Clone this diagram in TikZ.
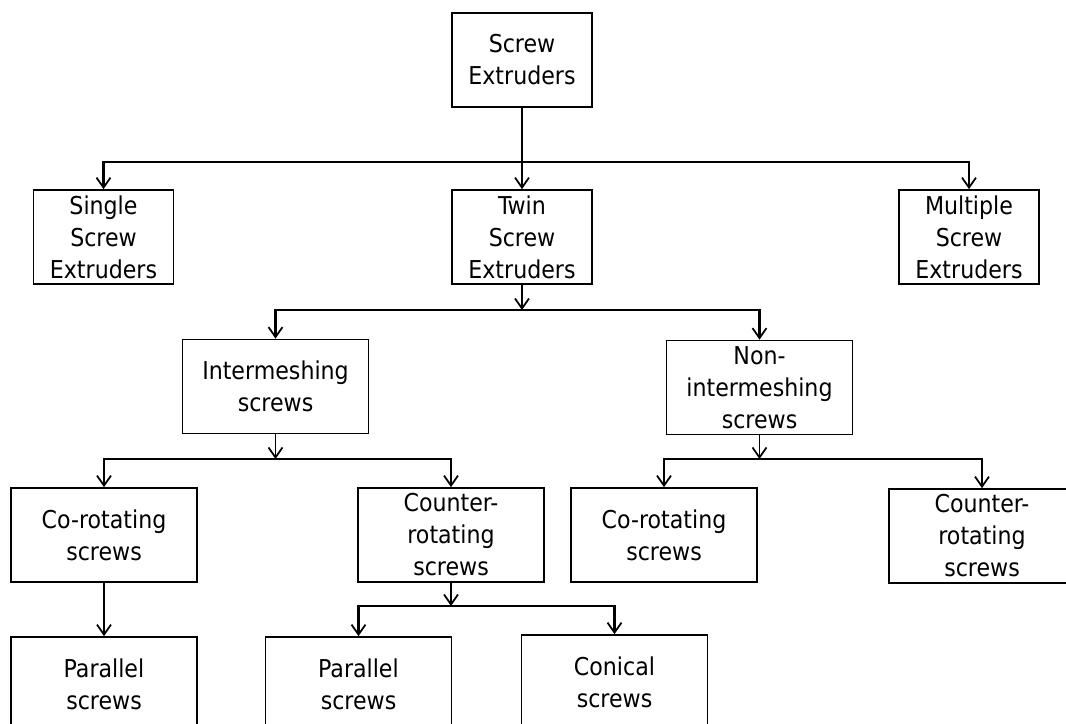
\documentclass[tikz,border=0pt]{standalone}
\usepackage{fontspec}
\setmainfont{DejaVu Sans Condensed}
\usepackage{tikz}
\usetikzlibrary{arrows.meta, positioning}
\tikzset{
  box/.style={rectangle, draw=black, line width=1pt, align=center, font=\fontsize{14}{18.2}\selectfont, minimum width=3.72cm, minimum height=1.88cm, inner sep=2pt},
  topbox/.style={box, minimum width=2.8cm},
  arr/.style={-{Straight Barb[length=2mm, width=2.8mm, line width=1pt]}, line width=1.1pt},
  bus/.style={line width=1.3pt},
}
\begin{document}
\begin{tikzpicture}[x=0.02cm, y=-0.02cm]
\useasboundingbox (0,0) rectangle (1066,724);
% boxes
\node[topbox] (se) at (522,60) {Screw\\Extruders};
\node[topbox] (single) at (103.5,237) {Single\\Screw\\Extruders};
\node[topbox] (twin) at (522,237) {Twin\\Screw\\Extruders};
\node[topbox] (multi) at (969,237) {Multiple\\Screw\\Extruders};
\node[box] (inter) at (275.5,386.5) {Intermeshing\\screws};
\node[box] (non) at (759.5,387.5) {Non-\\intermeshing\\screws};
\node[box] (co1) at (104,535) {Co-rotating\\screws};
\node[box] (cnt1) at (451,535) {Counter-\\rotating\\screws};
\node[box] (co2) at (664,535) {Co-rotating\\screws};
\node[box] (cnt2) at (982,536) {Counter-\\rotating\\screws};
\node[box] (par1) at (104,684) {Parallel\\screws};
\node[box] (par2) at (358.5,684) {Parallel\\screws};
\node[box] (con) at (614.5,682) {Conical\\screws};
% junctions
\coordinate (b1) at (se.south |- 0,162);
\coordinate (b2) at (twin.south |- 0,310);
\coordinate (b3) at (inter.south |- 0,459);
\coordinate (b4) at (non.south |- 0,459);
\coordinate (b5) at (cnt1.south |- 0,606);
% connectors
\draw[arr] (se) -- (twin);
\draw[arr, bus] (b1) -| (single.north);
\draw[arr, bus] (b1) -| (multi.north);
\draw[arr] (twin.south) -- (b2);
\draw[arr, bus] (b2) -| (inter.north);
\draw[arr, bus] (b2) -| (non.north);
\draw[arr] (inter.south) -- (b3);
\draw[arr, bus] (b3) -| (co1.north);
\draw[arr, bus] (b3) -| (cnt1.north);
\draw[arr] (non.south) -- (b4);
\draw[arr, bus] (b4) -| (co2.north);
\draw[arr, bus] (b4) -| (cnt2.north);
\draw[arr] (co1) -- (par1);
\draw[arr] (cnt1.south) -- (b5);
\draw[arr, bus] (b5) -| (par2.north);
\draw[arr, bus] (b5) -| (con.north);
\end{tikzpicture}
\end{document}
